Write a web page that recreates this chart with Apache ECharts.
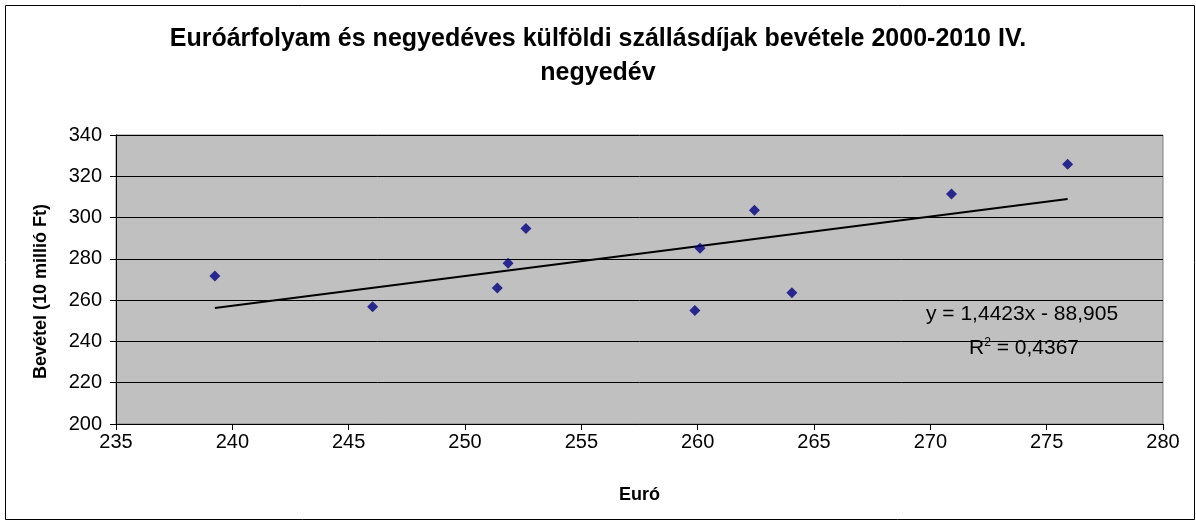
<!DOCTYPE html>
<html lang="hu">
<head>
  <meta charset="UTF-8">
  <title>Euróárfolyam és szállásdíjak</title>
  <script src="https://cdn.jsdelivr.net/npm/echarts@6/dist/echarts.min.js"></script>
  <style>
    html, body { margin: 0; padding: 0; background: #fff; }
    #chart { width: 1196px; height: 521px; }
  </style>
</head>
<body>
<div id="chart"></div>
<script>
  // Euró árfolyam (x) és bevétel, 10 millió Ft (y)
  var euro = [239.25, 246.03, 251.39, 251.85, 252.62, 259.88, 260.1, 262.44, 264.05, 270.91, 275.9];
  var bevetel = [271.7, 256.8, 265.9, 277.9, 294.7, 255.0, 285.1, 303.6, 263.6, 311.4, 325.8];
  var xTicks = [235, 240, 245, 250, 255, 260, 265, 270, 275, 280];
  var yTicks = [200, 220, 240, 260, 280, 300, 320, 340];

  // trendvonal az ábrán szereplő egyenletből
  var slope = 1.4423, intercept = -88.905, r2 = '0,4367';

  var points = euro.map(function(x, i) { return [x, bevetel[i]]; });
  var xMin = Math.min.apply(null, euro), xMax = Math.max.apply(null, euro);
  var trend = [[xMin, slope * xMin + intercept], [xMax, slope * xMax + intercept]];

  var font = '"Liberation Sans", Arial, sans-serif';
  var chart = echarts.init(document.getElementById('chart'));

  chart.setOption({
    animation: false,
    backgroundColor: '#fff',
    title: {
      text: 'Euróárfolyam és negyedéves külföldi szállásdíjak bevétele 2000-2010 IV.\nnegyedév',
      left: 'center',
      top: 17,
      textStyle: { fontFamily: font, fontSize: 25, fontWeight: 'bold', color: '#000', lineHeight: 34 }
    },
    grid: {
      left: 116, right: 33, top: 135, bottom: 97,
      show: true, backgroundColor: '#C0C0C0', borderColor: '#808080', borderWidth: 1
    },
    xAxis: {
      type: 'value',
      min: xTicks[0], max: xTicks[xTicks.length - 1], interval: 5,
      name: 'Euró', nameLocation: 'middle', nameGap: 62,
      nameTextStyle: { fontFamily: font, fontSize: 18, fontWeight: 'bold', color: '#000' },
      axisLine: { lineStyle: { color: '#000', width: 1 } },
      axisTick: { show: true, inside: false, length: 6, lineStyle: { color: '#000' } },
      axisLabel: { fontFamily: font, fontSize: 20, color: '#000', margin: 8 },
      splitLine: { show: false }
    },
    yAxis: {
      type: 'value',
      min: yTicks[0], max: yTicks[yTicks.length - 1], interval: 20,
      name: 'Bevétel (10 millió Ft)', nameLocation: 'middle', nameGap: 66, nameRotate: 90,
      nameTextStyle: { fontFamily: font, fontSize: 18, fontWeight: 'bold', color: '#000', padding: [0, 0, 0, -24] },
      axisLine: { show: true, lineStyle: { color: '#000', width: 1 } },
      axisTick: { show: true, inside: false, length: 6, lineStyle: { color: '#000' } },
      axisLabel: { fontFamily: font, fontSize: 20, color: '#000', margin: 14 },
      splitLine: { show: true, lineStyle: { color: '#000', width: 1 } }
    },
    series: [
      {
        name: 'Bevétel',
        type: 'scatter',
        data: points,
        symbol: 'diamond',
        symbolSize: 11,
        itemStyle: { color: '#000080' },
        z: 3
      },
      {
        name: 'Trend',
        type: 'line',
        data: trend,
        symbol: 'none',
        lineStyle: { color: '#000', width: 2 },
        z: 2
      }
    ],
    graphic: [
      {
        type: 'rect', left: 3, top: 3, z: -1,
        shape: { width: 1189, height: 514 },
        style: { fill: 'none', stroke: '#000', lineWidth: 1 }
      },
      {
        type: 'text', left: 926, top: 304,
        style: {
          text: 'y = 1,4423x - 88,905',
          font: '21px ' + font, fill: '#000'
        }
      },
      {
        type: 'text', left: 969, top: 337,
        style: {
          text: '{n|R}{s|2}{n| = ' + r2 + '}',
          rich: {
            n: { fontFamily: font, fontSize: 21, color: '#000', verticalAlign: 'bottom' },
            s: { fontFamily: font, fontSize: 12, color: '#000', verticalAlign: 'top', padding: [0, 0, 10, 0] }
          }
        }
      }
    ]
  });
</script>
</body>
</html>
